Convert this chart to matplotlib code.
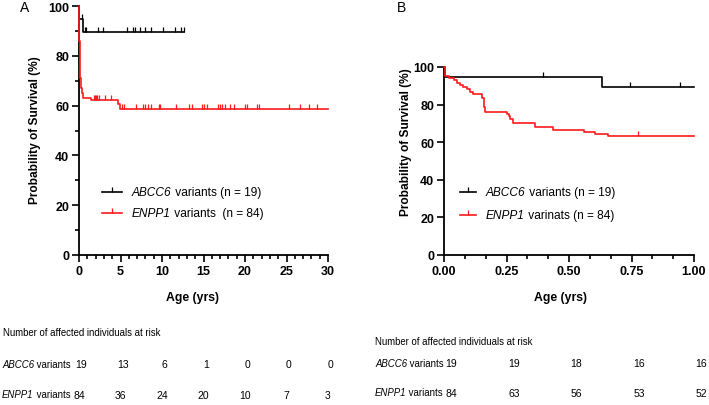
import numpy as np
import matplotlib
matplotlib.use('Agg')
import matplotlib.pyplot as plt
from matplotlib.transforms import blended_transform_factory
from matplotlib.ticker import MultipleLocator, FormatStrFormatter

REG = ['Liberation Sans', 'DejaVu Sans']
plt.rcParams['font.family'] = REG

# ---- panel A (0-30 yrs) ----
a_abcc6_t = [0, 0.03, 0.5, 12.7]
a_abcc6_s = [100, 94.7, 89.5, 89.5]
a_abcc6_cens = [0.32, 0.75, 0.85, 2.25, 2.95, 5.75, 6.45, 6.7, 7.3, 8.0, 8.7, 10.1, 11.6, 12.25, 12.6]

a_enpp1_t = [0, 0.04, 0.08, 0.12, 0.18, 0.24, 0.35, 0.5, 1.5, 4.7, 4.95, 30]
a_enpp1_s = [100, 86, 79, 75, 71, 67, 65, 63.1, 62.1, 60.7, 58.5, 58.5]
a_enpp1_cens = [1.75, 1.9, 2.05, 2.2, 2.4, 3.15, 3.85, 5.2, 5.4, 6.9, 7.7, 8.0, 8.3, 8.7,
                9.6, 9.8, 11.7, 13.2, 13.6, 14.8, 15.1, 15.4, 16.8, 17.0, 17.2, 17.65, 18.2,
                18.7, 20.0, 20.3, 21.4, 21.7, 25.3, 26.6, 27.7, 28.7]

a_risk_t = [0, 5, 10, 15, 20, 25, 30]
a_risk_abcc6 = [19, 13, 6, 1, 0, 0, 0]
a_risk_enpp1 = [84, 36, 24, 20, 10, 7, 3]

# ---- panel B (0-1 yr) ----
b_abcc6_t = [0, 0.005, 0.63, 1.0]
b_abcc6_s = [100, 94.7, 89.5, 89.5]
b_abcc6_cens = [0.395, 0.745, 0.944]

b_enpp1_t = [0, 0.003, 0.02, 0.04, 0.05, 0.064, 0.077, 0.091, 0.104, 0.117, 0.151, 0.158,
             0.164, 0.251, 0.258, 0.264, 0.277, 0.364, 0.435, 0.56, 0.604, 0.657, 1.0]
b_enpp1_s = [100, 95.2, 94.0, 92.9, 91.7, 90.5, 89.3, 88.1, 86.9, 85.7, 83.3, 78.6,
             76.2, 75.0, 73.8, 72.6, 70.2, 67.9, 66.7, 65.5, 64.3, 63.1, 63.1]
b_enpp1_cens = [0.777]

b_risk_t = [0, 0.25, 0.5, 0.75, 1.0]
b_risk_abcc6 = [19, 19, 18, 16, 16]
b_risk_enpp1 = [84, 63, 56, 53, 52]

RED = '#ff1a1a'
TICK = [(0, 0), (0, 1)]  # censor mark, upward from the line


def level_at(t, s, x):
    idx = np.searchsorted(t, x, side='right') - 1
    return np.array(s)[idx]


def km(ax, t, s, cens, color):
    ax.step(t, s, where='post', color=color, lw=1.2, clip_on=False, zorder=3)
    ax.plot(cens, level_at(t, s, cens), ls='none', marker=TICK, ms=7, mew=0.9,
            color=color, clip_on=False, zorder=3)


def gene_text(x, y, gene, rest, transform, size):
    t1 = fig.text(x, y, gene, transform=transform, fontsize=size,
                  style='italic', va='center', ha='left')
    t2 = plt.annotate(rest, xy=(1, 0), xycoords=t1, fontsize=size,
                      va='bottom', ha='left', annotation_clip=False)
    return t2


def style_axis(ax):
    for side in ['top', 'right']:
        ax.spines[side].set_visible(False)
    for side in ['left', 'bottom']:
        ax.spines[side].set_linewidth(1.3)
    ax.tick_params(which='major', length=5, width=1.2, pad=2, labelsize=9)
    ax.tick_params(which='minor', length=3, width=1.2)
    for lab in ax.get_xticklabels() + ax.get_yticklabels():
        lab.set_fontweight('bold')


fig = plt.figure(figsize=(7.09, 4.06), dpi=100)
W, H = 709.0, 406.0
axA = fig.add_axes([79 / W, 1 - 256 / H, 249 / W, 249 / H])
axB = fig.add_axes([444 / W, 1 - 256 / H, 250 / W, 188 / H])

# panel A
km(axA, a_abcc6_t, a_abcc6_s, a_abcc6_cens, 'black')
km(axA, a_enpp1_t, a_enpp1_s, a_enpp1_cens, RED)
axA.set_xlim(0, 30)
axA.set_ylim(0, 100)
axA.xaxis.set_major_locator(MultipleLocator(5))
axA.xaxis.set_minor_locator(MultipleLocator(1))
axA.yaxis.set_major_locator(MultipleLocator(20))
axA.yaxis.set_minor_locator(MultipleLocator(10))
style_axis(axA)
axA.set_xlabel('Age (yrs)', fontsize=8.8, fontweight='bold', va='center')
axA.xaxis.set_label_coords(0.456, -0.169)
axA.set_ylabel('Probability of Survival (%)', fontsize=8.6, fontweight='bold', va='center')
axA.yaxis.set_label_coords(-0.175, 0.506)

# panel B
km(axB, b_abcc6_t, b_abcc6_s, b_abcc6_cens, 'black')
km(axB, b_enpp1_t, b_enpp1_s, b_enpp1_cens, RED)
axB.set_xlim(0, 1)
axB.set_ylim(0, 100)
axB.xaxis.set_major_locator(MultipleLocator(0.25))
axB.xaxis.set_minor_locator(MultipleLocator(1 / 12))
axB.yaxis.set_major_locator(MultipleLocator(20))
axB.xaxis.set_major_formatter(FormatStrFormatter('%.2f'))
style_axis(axB)
axB.set_xlabel('Age (yrs)', fontsize=8.8, fontweight='bold', va='center')
axB.xaxis.set_label_coords(0.468, -0.223)
axB.set_ylabel('Probability of Survival (%)', fontsize=8.6, fontweight='bold', va='center')
axB.yaxis.set_label_coords(-0.154, 0.604)

# legends drawn by hand
px = fig.transFigure
legend_rows = [
    (102, 122, 193, 'black', 'ABCC6', ' variants (n = 19)'),
    (102, 122, 214, RED, 'ENPP1', ' variants  (n = 84)'),
    (460, 476, 193, 'black', 'ABCC6', ' variants (n = 19)'),
    (460, 476, 216, RED, 'ENPP1', ' varinats (n = 84)'),
]
for x0, x1, y, col, gene, rest in legend_rows:
    yy = 1 - y / H
    fig.add_artist(plt.Line2D([x0 / W, x1 / W], [yy, yy], color=col, lw=1.2, transform=px))
    fig.add_artist(plt.Line2D([(x0 + x1) / 2 / W], [yy], color=col, ls='none', marker=TICK,
                              ms=7, mew=0.9, transform=px))
    gene_text((x1 + 10) / W, yy, gene, rest, px, 8.6)

# panel letters
fig.text(25 / W, 1 - 8 / H, 'A', fontsize=10, ha='center', va='center')
fig.text(401 / W, 1 - 8 / H, 'B', fontsize=10, ha='center', va='center')

# numbers at risk
fig.text(3 / W, 1 - 333 / H, 'Number of affected individuals at risk', fontsize=6.9, va='center')
fig.text(375 / W, 1 - 342 / H, 'Number of affected individuals at risk', fontsize=6.9, va='center')
gene_text(2 / W, 1 - 365 / H, 'ABCC6', ' variants', px, 6.9)
gene_text(2 / W, 1 - 395 / H, 'ENPP1', ' variants', px, 6.9)
gene_text(375 / W, 1 - 364 / H, 'ABCC6', ' variants', px, 6.9)
gene_text(375 / W, 1 - 393 / H, 'ENPP1', ' variants', px, 6.9)

trA = blended_transform_factory(axA.transData, fig.transFigure)
for x, n1, n2 in zip(a_risk_t, a_risk_abcc6, a_risk_enpp1):
    fig.text(x + 0.3, 1 - 365 / H, str(n1), transform=trA, fontsize=7.5, ha='center', va='center')
    fig.text(x, 1 - 396 / H, str(n2), transform=trA, fontsize=7.5, ha='center', va='center')

trB = blended_transform_factory(axB.transData, fig.transFigure)
for x, n1, n2 in zip(b_risk_t, b_risk_abcc6, b_risk_enpp1):
    fig.text(x + 0.03, 1 - 364 / H, str(n1), transform=trB, fontsize=7.5, ha='center', va='center')
    fig.text(x + 0.03, 1 - 394 / H, str(n2), transform=trB, fontsize=7.5, ha='center', va='center')

fig.savefig('out.png', dpi=100)
